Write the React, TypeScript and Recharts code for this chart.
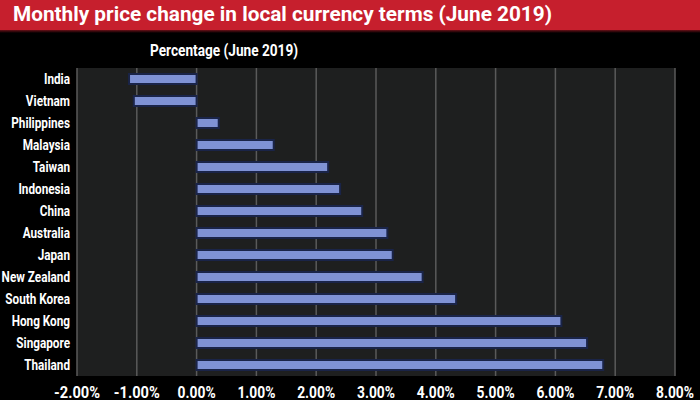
import React from 'react';
import { BarChart, Bar, XAxis, YAxis, CartesianGrid } from 'recharts';

const countries = ['India', 'Vietnam', 'Philippines', 'Malaysia', 'Taiwan', 'Indonesia', 'China', 'Australia', 'Japan', 'New Zealand', 'South Korea', 'Hong Kong', 'Singapore', 'Thailand'];
const changes = [-1.13, -1.05, 0.37, 1.29, 2.2, 2.4, 2.77, 3.19, 3.28, 3.78, 4.34, 6.1, 6.53, 6.8];
const xTicks = [-2, -1, 0, 1, 2, 3, 4, 5, 6, 7, 8];
const title = 'Monthly price change in local currency terms (June 2019)';
const subtitle = 'Percentage (June 2019)';

const data = countries.map((c, i) => ({ country: c, value: changes[i] }));

const FONT = 'Roboto, "Liberation Sans", sans-serif';

const XTick = (props: any) => {
  const { x, y, payload } = props;
  const label = (payload.value as number).toFixed(2) + '%';
  const len = label.startsWith('-') ? 46 : 38;
  return (
    <text x={x} y={y + 20} textAnchor="middle" fill="#fff" fontFamily={FONT} fontWeight="bold" fontSize={16}
      textLength={len} lengthAdjust="spacingAndGlyphs">{label}</text>
  );
};

const YTick = (props: any) => {
  const { x, y, payload } = props;
  return (
    <g transform={`translate(${x - 5},${y + 5}) scale(0.84,1)`}>
      <text x={0} y={0} textAnchor="end" fill="#fff" fontFamily={FONT} fontWeight="bold" fontSize={14}>{payload.value}</text>
    </g>
  );
};

export default function App() {
  return (
    <div style={{ position: 'absolute', left: 0, top: 0, width: 700, height: 400, background: '#000', overflow: 'hidden' }}>
      <div style={{ position: 'absolute', left: 0, top: 0, width: 700, height: 30, background: '#c61f2d' }} />
      <div style={{ position: 'absolute', left: 0, top: 30, width: 700, height: 3, background: 'linear-gradient(#6a1018, #000)' }} />
      <svg style={{ position: 'absolute', left: 0, top: 0 }} width={700} height={70}>
        <text x={13} y={21} fill="#fff" fontFamily={FONT} fontWeight="bold" fontSize={20} textLength={539} lengthAdjust="spacingAndGlyphs">{title}</text>
        <text x={150} y={56} fill="#fff" fontFamily={FONT} fontWeight="bold" fontSize={16} textLength={148} lengthAdjust="spacingAndGlyphs">{subtitle}</text>
      </svg>
      <div style={{ position: 'absolute', left: 0, top: 0 }}>
        <BarChart width={700} height={400} data={data} layout="vertical" margin={{ top: 68, right: 25, bottom: 0, left: 0 }} barCategoryGap={0}>
          <CartesianGrid horizontal={false} vertical={true} fill="#1e1f1f" stroke="#5a5a5a" strokeWidth={1.5} />
          <XAxis type="number" domain={[-2, 8]} ticks={xTicks} height={24} axisLine={false} tickLine={false} tickSize={0}
            tick={<XTick />} interval={0} />
          <YAxis type="category" dataKey="country" width={77} axisLine={false} tickLine={false} tickSize={0}
            tick={<YTick />} interval={0} />
          <Bar dataKey="value" fill="#7f92d4" stroke="#1a2448" strokeWidth={2} barSize={10} isAnimationActive={false} />
        </BarChart>
      </div>
    </div>
  );
}
